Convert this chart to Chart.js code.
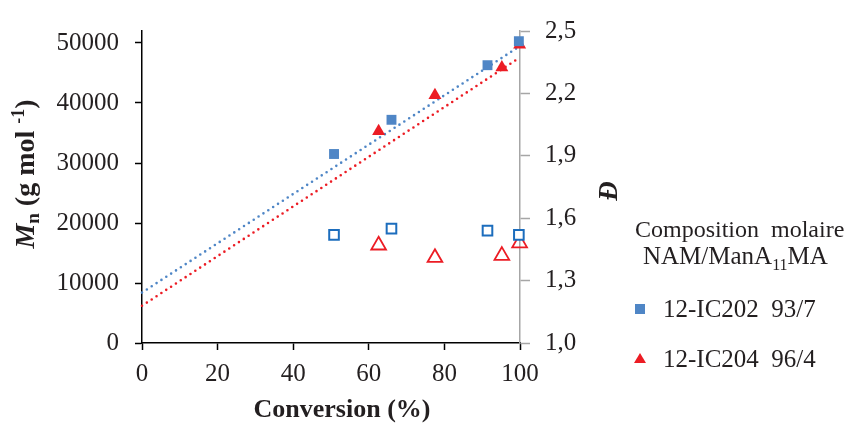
<!DOCTYPE html>
<html>
<head>
<meta charset="utf-8">
<script src="https://cdn.jsdelivr.net/npm/chart.js@4.4.0/dist/chart.umd.min.js"></script>
<style>
  html, body { margin: 0; padding: 0; background: #fff; }
  #wrap { width: 847px; height: 423px; }
</style>
</head>
<body>
<div id="wrap"><canvas id="chartCanvas" width="847" height="423"></canvas></div>
<script>
// --- data ---
const conversionIC202 = [50.8, 66.0, 91.4, 99.7];
const mnIC202 = [31500, 37200, 46300, 50300];
const dispIC202 = [1.52, 1.55, 1.54, 1.52];

const conversionIC204 = [62.6, 77.5, 95.2, 99.9];
const mnIC204 = [35300, 41300, 45900, 49700];
const dispIC204 = [1.47, 1.41, 1.42, 1.48];

// dotted trend lines (end points)
const trendX = [0, 100];
const trendIC202 = [8400, 49500];
const trendIC204 = [6200, 47600];

// tick labels
const xTicks = [0, 20, 40, 60, 80, 100];
const mnTicks = [0, 10000, 20000, 30000, 40000, 50000];
const dTicks = [1.0, 1.3, 1.6, 1.9, 2.2, 2.5];

const legendLabels = ["12-IC202  93/7", "12-IC204  96/4"];

// --- helpers ---
const SERIF = "'Liberation Serif', 'Times New Roman', serif";
const TEXT = "#231f20";
const BLUE = "#4f86c6";
const BLUE_OPEN = "#1c6dbd";
const RED = "#ec1c24";

const pts = (xs, ys) => xs.map((x, i) => ({ x, y: ys[i] }));

// draw a run of text pieces (for sub/superscripts)
function richText(ctx, parts, x, y, align) {
  let w = 0;
  parts.forEach(p => { ctx.font = p.font; w += ctx.measureText(p.t).width; });
  let cx = align === "center" ? x - w / 2 : x;
  parts.forEach(p => {
    ctx.font = p.font;
    ctx.fillText(p.t, cx, y + (p.dy || 0));
    cx += ctx.measureText(p.t).width;
  });
}

const textPlugin = {
  id: "textPlugin",
  afterDraw(chart) {
    const ctx = chart.ctx;
    ctx.save();
    ctx.fillStyle = TEXT;
    ctx.textBaseline = "alphabetic";
    ctx.textAlign = "left";

    // left axis title
    ctx.save();
    ctx.translate(34, 174);
    ctx.rotate(-Math.PI / 2);
    richText(ctx, [
      { t: "M", font: `italic bold 28px ${SERIF}` },
      { t: "n", font: `bold 19px ${SERIF}`, dy: 5 },
      { t: " (g mol ", font: `bold 28px ${SERIF}` },
      { t: "-1", font: `bold 18px ${SERIF}`, dy: -10 },
      { t: ")", font: `bold 28px ${SERIF}` }
    ], 0, 0, "center");
    ctx.restore();

    // right axis title
    ctx.save();
    ctx.translate(617, 191);
    ctx.rotate(-Math.PI / 2);
    ctx.font = `italic bold 27px ${SERIF}`;
    ctx.textAlign = "center";
    ctx.fillText("Đ", 0, 0);
    ctx.restore();

    // x axis title
    ctx.font = `bold 26px ${SERIF}`;
    ctx.textAlign = "center";
    ctx.fillText("Conversion (%)", 342, 417);
    ctx.textAlign = "left";

    // legend
    ctx.font = `24px ${SERIF}`;
    ctx.fillText("Composition  molaire", 635, 237);
    richText(ctx, [
      { t: "NAM/ManA", font: `25px ${SERIF}` },
      { t: "11", font: `16px ${SERIF}`, dy: 6 },
      { t: "MA", font: `25px ${SERIF}` }
    ], 643, 264, "left");

    ctx.font = `25px ${SERIF}`;
    ctx.fillText(legendLabels[0], 663, 317);
    ctx.fillText(legendLabels[1], 663, 367);

    ctx.fillStyle = BLUE;
    ctx.fillRect(635, 304, 10, 10);
    ctx.fillStyle = RED;
    ctx.beginPath();
    ctx.moveTo(640, 353);
    ctx.lineTo(646, 363);
    ctx.lineTo(634, 363);
    ctx.closePath();
    ctx.fill();
    ctx.restore();
  }
};

const dotted = {
  showLine: true,
  pointRadius: 0,
  borderWidth: 2.6,
  borderDash: [0, 5.8],
  borderCapStyle: "round",
  clip: false,
  order: 3
};

new Chart(document.getElementById("chartCanvas"), {
  type: "scatter",
  data: {
    datasets: [
      { label: "trend 12-IC202", data: pts(trendX, trendIC202), borderColor: BLUE, yAxisID: "y", ...dotted },
      { label: "trend 12-IC204", data: pts(trendX, trendIC204), borderColor: RED, yAxisID: "y", ...dotted },
      {
        label: legendLabels[0], data: pts(conversionIC202, mnIC202), yAxisID: "y", clip: false,
        pointStyle: "rect", pointRadius: 7, backgroundColor: BLUE, borderColor: BLUE, borderWidth: 0, order: 1
      },
      {
        label: legendLabels[1], data: pts(conversionIC204, mnIC204), yAxisID: "y", clip: false,
        pointStyle: "triangle", pointRadius: 7.5, backgroundColor: RED, borderColor: RED, borderWidth: 0, order: 1
      },
      {
        label: "D 12-IC202", data: pts(conversionIC202, dispIC202), yAxisID: "yD", clip: false,
        pointStyle: "rect", pointRadius: 6.8, backgroundColor: "#fff", borderColor: BLUE_OPEN, borderWidth: 2, order: 2
      },
      {
        label: "D 12-IC204", data: pts(conversionIC204, dispIC204), yAxisID: "yD", clip: false,
        pointStyle: "triangle", pointRadius: 8.5, backgroundColor: "rgba(255,255,255,0)", borderColor: RED, borderWidth: 1.8, order: 2
      }
    ]
  },
  options: {
    responsive: false,
    animation: false,
    layout: { padding: { top: 26, left: 0, right: 0, bottom: 0 } },
    plugins: { legend: { display: false }, tooltip: { enabled: false } },
    scales: {
      x: {
        type: "linear", position: "bottom", min: 0, max: 100,
        afterBuildTicks: s => { s.ticks = xTicks.map(v => ({ value: v })); },
        afterFit: s => { s.height = 80; },
        grid: { drawOnChartArea: false, drawTicks: true, tickLength: 7, tickWidth: 1.5, tickColor: "#000" },
        border: { color: "#000", width: 1.5 },
        ticks: { font: { family: SERIF, size: 25 }, color: TEXT, padding: 9, callback: v => String(v) }
      },
      y: {
        type: "linear", position: "left", min: 0, max: 52000,
        afterBuildTicks: s => { s.ticks = mnTicks.map(v => ({ value: v })); },
        afterFit: s => { s.width = 142; },
        grid: { drawOnChartArea: false, drawTicks: true, tickLength: 7, tickWidth: 1.5, tickColor: "#000" },
        border: { color: "#000", width: 1.5 },
        ticks: { font: { family: SERIF, size: 25 }, color: TEXT, padding: 16, callback: v => String(v) }
      },
      yD: {
        type: "linear", position: "right", min: 1.0, max: 2.5,
        afterBuildTicks: s => { s.ticks = dTicks.map(v => ({ value: v })); },
        afterFit: s => { s.width = 327; },
        grid: { drawOnChartArea: false, drawTicks: true, tickLength: 10, tickWidth: 1.5, tickColor: "#a6a6a6" },
        border: { color: "#a6a6a6", width: 1.5 },
        ticks: {
          font: { family: SERIF, size: 25 }, color: TEXT, padding: 15,
          callback: v => v.toFixed(1).replace(".", ",")
        }
      }
    }
  },
  plugins: [textPlugin]
});
</script>
</body>
</html>
